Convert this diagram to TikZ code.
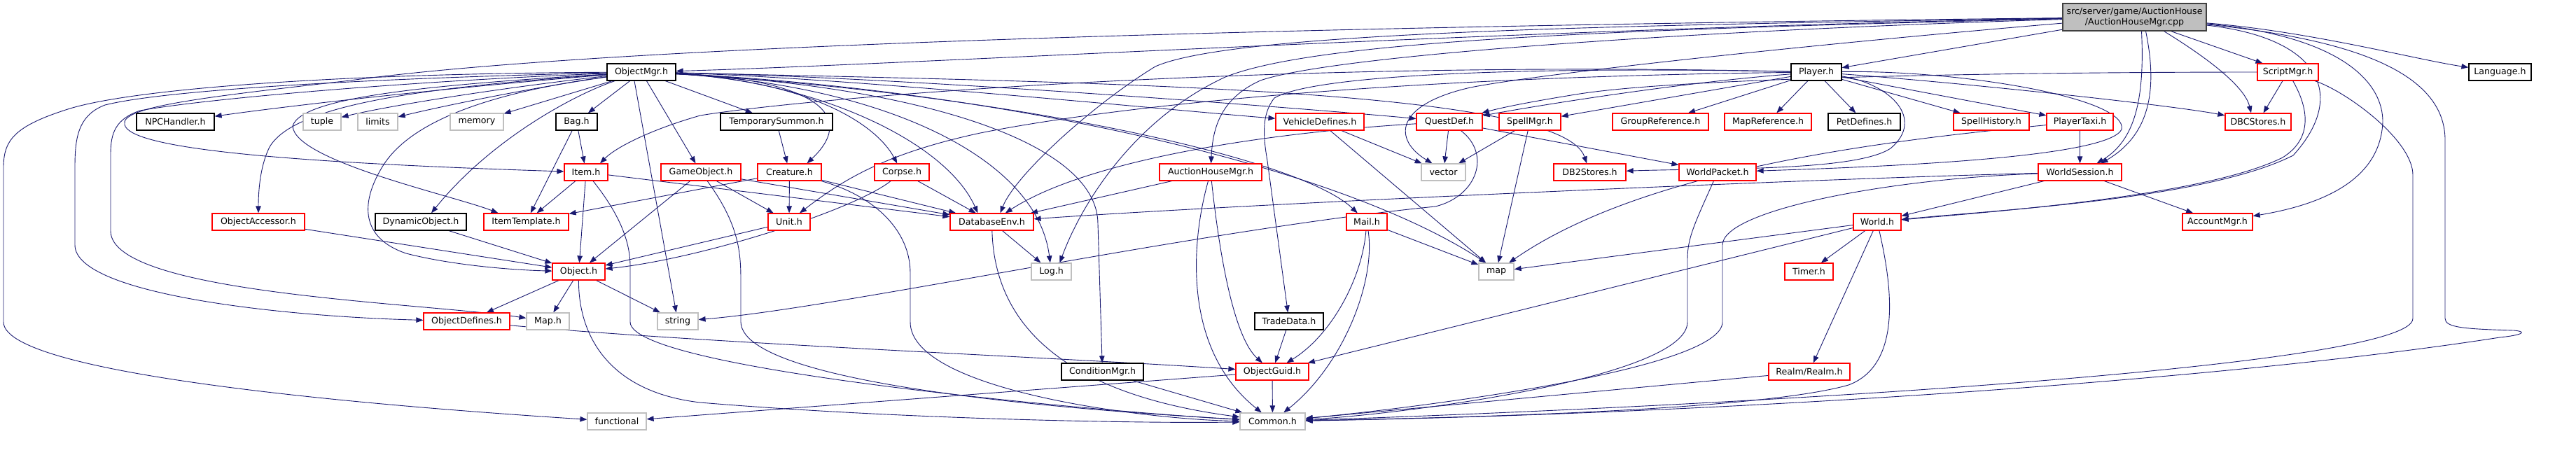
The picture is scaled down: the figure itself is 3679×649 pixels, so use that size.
\documentclass[tikz,border=0pt]{standalone}
\usepackage{fontspec}
\setmainfont{DejaVu Sans}
\usetikzlibrary{arrows.meta}
\definecolor{edgecol}{HTML}{191970}
\definecolor{greyb}{HTML}{BFBFBF}
\definecolor{rootb}{HTML}{404040}
\pgfdeclarelayer{edgelayer}
\pgfsetlayers{edgelayer,main}
\begin{document}
\begin{tikzpicture}[x=1pt,y=-1pt,
  box/.style={draw, line width=1.2pt, minimum height=24pt, inner sep=0pt, fill=white, font=\fontsize{12.6pt}{15pt}\selectfont},
  rb/.style={box, draw=red},
  bb/.style={box, draw=black},
  gb/.style={box, draw=greyb},
  e/.style={draw=edgecol, line width=0.9pt, -{Triangle[length=10pt,width=7.5pt]}}]
\useasboundingbox (0,0) rectangle (3679,649);
% ---------------- nodes ----------------
\node[box, draw=rootb, fill=greyb, minimum width=205pt, minimum height=39pt, align=center] (root) at (3048.5,24.5) {src/server/game/AuctionHouse\\/AuctionHouseMgr.cpp};
% row 1
\node[bb, minimum width=98pt] (om) at (916,103) {ObjectMgr.h};
\node[bb, minimum width=72pt] (player) at (2594,103) {Player.h};
\node[rb, minimum width=87pt] (sm) at (3267.5,103) {ScriptMgr.h};
\node[bb, minimum width=89pt] (lang) at (3570.5,103) {Language.h};
% row 2
\node[bb, minimum width=111pt] (npc) at (250.5,174) {NPCHandler.h};
\node[gb, minimum width=54pt] (tuple) at (460,174) {tuple};
\node[gb, minimum width=57pt] (limits) at (539.5,174) {limits};
\node[gb, minimum width=76pt] (memory) at (681,174) {memory};
\node[bb, minimum width=59pt] (bag) at (823.5,174) {Bag.h};
\node[bb, minimum width=160pt] (tsum) at (1109,174) {TemporarySummon.h};
\node[rb, minimum width=126pt] (vehicle) at (1885,174) {VehicleDefines.h};
\node[rb, minimum width=94pt] (quest) at (2070,174) {QuestDef.h};
\node[rb, minimum width=88pt] (spellmgr) at (2185,174) {SpellMgr.h};
\node[rb, minimum width=137pt] (groupref) at (2371.5,174) {GroupReference.h};
\node[rb, minimum width=124pt] (mapref) at (2525,174) {MapReference.h};
\node[bb, minimum width=103pt] (petdef) at (2662.5,174) {PetDefines.h};
\node[rb, minimum width=108pt] (spellhist) at (2844,174) {SpellHistory.h};
\node[rb, minimum width=95pt] (ptaxi) at (2970.5,174) {PlayerTaxi.h};
\node[rb, minimum width=94pt] (dbc) at (3225,174) {DBCStores.h};
% row 3
\node[rb, minimum width=62pt] (item) at (837,246) {Item.h};
\node[rb, minimum width=114pt] (gobj) at (1001,246) {GameObject.h};
\node[rb, minimum width=91pt] (creature) at (1127.5,246) {Creature.h};
\node[rb, minimum width=78pt] (corpse) at (1288,246) {Corpse.h};
\node[rb, minimum width=146pt] (ahm) at (1729,246) {AuctionHouseMgr.h};
\node[gb, minimum width=63pt] (vector) at (2061.5,246) {vector};
\node[rb, minimum width=103pt] (db2) at (2270.5,246) {DB2Stores.h};
\node[rb, minimum width=110pt] (wpkt) at (2453,246) {WorldPacket.h};
\node[rb, minimum width=119pt] (wsess) at (2970.5,246) {WorldSession.h};
% row 4
\node[rb, minimum width=132pt] (oacc) at (369,317) {ObjectAccessor.h};
\node[bb, minimum width=130pt] (dynobj) at (601,317) {DynamicObject.h};
\node[rb, minimum width=121pt] (itmpl) at (751.5,317) {ItemTemplate.h};
\node[rb, minimum width=60pt] (unit) at (1127,317) {Unit.h};
\node[rb, minimum width=119pt] (dbenv) at (1416.5,317) {DatabaseEnv.h};
\node[rb, minimum width=58pt] (mail) at (1952,317) {Mail.h};
\node[rb, minimum width=68pt] (world) at (2681,317) {World.h};
\node[rb, minimum width=100pt] (acct) at (3167,317) {AccountMgr.h};
% row 5
\node[rb, minimum width=75pt] (object) at (826.5,388) {Object.h};
\node[gb, minimum width=57pt] (logh) at (1501.5,388) {Log.h};
\node[gb, minimum width=50pt] (mapstd) at (2137,388) {map};
\node[rb, minimum width=69pt] (timer) at (2583.5,388) {Timer.h};
% row 6
\node[rb, minimum width=123pt] (objdefs) at (666.5,459) {ObjectDefines.h};
\node[gb, minimum width=61pt] (maph) at (782.5,459) {Map.h};
\node[gb, minimum width=58pt] (stringh) at (968,459) {string};
\node[bb, minimum width=98pt] (trade) at (1841,459) {TradeData.h};
% row 7
\node[bb, minimum width=117pt] (condmgr) at (1574.5,531) {ConditionMgr.h};
\node[rb, minimum width=104pt] (oguid) at (1817,531) {ObjectGuid.h};
\node[rb, minimum width=116pt] (realm) at (2584,531) {Realm/Realm.h};
% row 8
\node[gb, minimum width=84pt] (functional) at (881,602) {functional};
\node[gb, minimum width=93pt] (common) at (1817.5,602) {Common.h};
\begin{pgfonlayer}{edgelayer}
% ---------------- edges: root ----------------
\draw[e] (root) .. controls (2200,40) and (1300,92) .. (om);
\draw[e] (root) -- (player);
\draw[e] ([xshift=52]root.south) -- (sm);
\draw[e] (root) .. controls (3300,45) and (3450,85) .. (lang);
\draw[e] ([xshift=42]root.south) .. controls (3140,75) and (3205,120) .. ([xshift=-10]dbc.north);
\draw[e] ([xshift=10]root.south) .. controls (3063,140) and (3050,200) .. ([xshift=24]wsess.north);
\draw[e] ([xshift=16]root.south) .. controls (3080,120) and (3075,190) .. ([xshift=30]wsess.north);
\draw[e] (root) .. controls (3320,55) and (3350,140) .. (3275,222) .. controls (3150,285) and (2850,300) .. (world);
\draw[e] (root) .. controls (3330,50) and (3403,110) .. (3403,174) .. controls (3400,250) and (3330,290) .. (acct);
\draw[e] (root) .. controls (3350,55) and (3492,100) .. (3492,200) -- (3492,455) .. controls (3492,468) and (3520,470) .. (3590,472) .. controls (3612,474) and (3600,479) .. (3570,482) .. controls (3200,540) and (2500,590) .. (common);
\draw[e] (root) .. controls (2300,42) and (1880,58) .. (1750,110) .. controls (1620,170) and (1545,290) .. ([xshift=12]logh.north);
\draw[e] (root) .. controls (2300,36) and (1760,46) .. (1650,95) .. controls (1560,150) and (1450,250) .. ([xshift=12]dbenv.north);
\draw[e] (root) .. controls (2400,44) and (1900,80) .. (1800,115) .. controls (1745,140) and (1732,180) .. (ahm);
\draw[e] (root) .. controls (2600,62) and (2200,105) .. (2100,125) .. controls (1990,150) and (1990,200) .. ([xshift=-16]vector.north);
\draw[e] (root) .. controls (2000,36) and (900,60) .. (500,115) .. controls (300,138) and (170,152) .. (178,178) .. controls (185,212) and (400,232) .. (item);
% ---------------- edges: ObjectMgr ----------------
\draw[e] (om) .. controls (700,120) and (450,146) .. (npc);
\draw[e] (om) .. controls (720,125) and (560,150) .. (tuple);
\draw[e] (om) .. controls (760,125) and (630,152) .. (limits);
\draw[e] (om) -- (memory);
\draw[e] (om) -- (bag);
\draw[e] (om) -- (tsum);
\draw[e] (om) -- (gobj);
\draw[e] ([xshift=-10]om.south) -- (stringh);
\draw[e] (om) .. controls (600,125) and (420,150) .. (385,210) .. controls (370,240) and (369,280) .. (oacc);
\draw[e] (om) .. controls (820,135) and (700,200) .. ([xshift=15]dynobj.north);
\draw[e] (om) .. controls (600,122) and (430,140) .. (418,180) .. controls (420,230) and (650,280) .. ([xshift=-40]itmpl.north);
\draw[e] (om) .. controls (680,135) and (580,180) .. (545,240) .. controls (515,290) and (515,340) .. (580,362) .. controls (650,380) and (740,386) .. (object);
\draw[e] (om) .. controls (600,115) and (300,140) .. (200,158) .. controls (165,170) and (158,190) .. (158,220) -- (158,330) .. controls (158,420) and (600,432) .. (maph);
\draw[e] (om) .. controls (600,110) and (250,125) .. (150,150) .. controls (110,165) and (107,200) .. (107,240) -- (107,350) .. controls (107,420) and (400,452) .. (objdefs);
\draw[e] (om) .. controls (500,105) and (200,125) .. (100,155) .. controls (20,180) and (5,200) .. (5,240) -- (5,460) .. controls (5,540) and (600,584) .. (functional);
\draw[e] (om) .. controls (1150,112) and (1230,160) .. ([xshift=25]creature.north);
\draw[e] (om) .. controls (1150,115) and (1250,175) .. (corpse);
\draw[e] (om) .. controls (1160,115) and (1350,200) .. ([xshift=-20]dbenv.north);
\draw[e] (om) .. controls (1250,120) and (1480,220) .. (logh);
\draw[e] (om) .. controls (1300,122) and (1568,200) .. (1568,320) -- (condmgr);
\draw[e] (om) .. controls (1400,130) and (1850,220) .. (mail);
\draw[e] (om) .. controls (1400,126) and (1900,230) .. ([xshift=-15]mapstd.north);
\draw[e] (om) .. controls (1200,110) and (1700,160) .. (vehicle);
\draw[e] (om) .. controls (1300,110) and (1900,158) .. (quest);
\draw[e] (om) .. controls (1600,118) and (2230,128) .. (db2);
% ---------------- edges: Player ----------------
\draw[e] (player) .. controls (2400,118) and (2200,150) .. (quest);
\draw[e] (player) -- (spellmgr);
\draw[e] (player) -- (groupref);
\draw[e] (player) -- (mapref);
\draw[e] (player) -- (petdef);
\draw[e] (player) -- (spellhist);
\draw[e] (player) -- (ptaxi);
\draw[e] (player) .. controls (2800,118) and (3100,150) .. (dbc);
\draw[e] (player) .. controls (2700,120) and (2750,170) .. (2700,212) .. controls (2650,245) and (2450,240) .. (db2);
\draw[e] (player) .. controls (2800,100) and (3040,140) .. (3030,185) .. controls (3010,225) and (2700,238) .. (wpkt);
\draw[e] (player) .. controls (1800,85) and (1150,140) .. (1000,165) .. controls (930,185) and (880,210) .. ([xshift=20]item.north);
\draw[e] (player) .. controls (2000,110) and (1600,150) .. (1400,190) .. controls (1260,220) and (1200,260) .. ([xshift=15]unit.north);
\draw[e] (player) .. controls (2200,95) and (1880,105) .. (1820,140) .. controls (1800,165) and (1805,200) .. (1810,230) -- (trade);
% ---------------- edges: ScriptMgr ----------------
\draw[e] (sm) -- (dbc);
\draw[e] (sm) .. controls (2900,103) and (2400,110) .. (2250,135) .. controls (2170,148) and (2140,155) .. (quest);
\draw[e] (sm) .. controls (3300,160) and (3300,200) .. (3260,225) .. controls (3150,280) and (2850,302) .. (world);
\draw[e] (sm) .. controls (3350,130) and (3446,200) .. (3446,250) -- (3446,455) .. controls (3446,520) and (2600,575) .. (common);
% ---------------- edges: right side ----------------
\draw[e] (ptaxi) -- (wsess);
\draw[e] (ptaxi) .. controls (2700,200) and (2350,240) .. (mapstd);
\draw[e] (wsess) -- (world);
\draw[e] (wsess) -- (acct);
\draw[e] (wsess) .. controls (2600,255) and (1800,290) .. (dbenv);
\draw[e] (wsess) .. controls (2700,255) and (2460,300) .. (2460,350) -- (2460,460) .. controls (2460,530) and (2000,585) .. (common);
\draw[e] (wpkt) .. controls (2420,320) and (2410,340) .. (2410,370) -- (2410,460) .. controls (2410,540) and (2000,592) .. (common);
\draw[e] (world) -- (timer);
\draw[e] (world) -- (realm);
\draw[e] (world) .. controls (2700,400) and (2720,520) .. (2640,550) .. controls (2500,590) and (2000,598) .. (common);
\draw[e] (world) -- (oguid);
\draw[e] (world) -- (mapstd);
\draw[e] (realm) -- (common);
% ---------------- edges: middle ----------------
\draw[e] (vehicle) -- (vector);
\draw[e] (vehicle) -- (mapstd);
\draw[e] (quest) -- (vector);
\draw[e] (quest) -- (wpkt);
\draw[e] (quest) .. controls (1800,190) and (1550,230) .. (dbenv);
\draw[e] (quest) .. controls (2130,220) and (2110,280) .. (2050,295) .. controls (1700,330) and (1200,440) .. (stringh);
\draw[e] (spellmgr) -- (vector);
\draw[e] (spellmgr) -- (mapstd);
\draw[e] (mail) -- (mapstd);
\draw[e] (mail) .. controls (1945,400) and (1900,480) .. (oguid);
\draw[e] (mail) .. controls (1965,400) and (1920,520) .. (common);
\draw[e] (trade) -- (oguid);
\draw[e] (oguid) -- (common);
\draw[e] (oguid) -- (functional);
\draw[e] (condmgr) -- (common);
\draw[e] (ahm) -- (dbenv);
\draw[e] (ahm) .. controls (1700,350) and (1690,500) .. (common);
\draw[e] (ahm) .. controls (1740,350) and (1760,480) .. (oguid);
\draw[e] (dbenv) -- (logh);
\draw[e] (dbenv) .. controls (1420,450) and (1500,560) .. (common);
% ---------------- edges: left side ----------------
\draw[e] (corpse) .. controls (1220,300) and (1000,370) .. (object);
\draw[e] (corpse) -- (dbenv);
\draw[e] (creature) -- (itmpl);
\draw[e] (creature) -- (unit);
\draw[e] (creature) -- (dbenv);
\draw[e] (creature) .. controls (1250,280) and (1300,330) .. (1300,390) -- (1300,460) .. controls (1300,560) and (1650,600) .. (common);
\draw[e] (gobj) -- (object);
\draw[e] (gobj) -- (unit);
\draw[e] (gobj) -- (dbenv);
\draw[e] (gobj) .. controls (1055,320) and (1058,360) .. (1058,400) -- (1058,460) .. controls (1060,560) and (1650,592) .. (common);
\draw[e] (item) -- (itmpl);
\draw[e] (item) -- (object);
\draw[e] (item) -- (dbenv);
\draw[e] (item) .. controls (880,300) and (900,340) .. (900,380) -- (900,460) .. controls (900,530) and (1600,590) .. (common);
\draw[e] (bag) -- (item);
\draw[e] (bag) -- (itmpl);
\draw[e] (tsum) -- (creature);
\draw[e] (unit) -- (object);
\draw[e] (dynobj) -- (object);
\draw[e] (oacc) -- (object);
\draw[e] (object) -- (objdefs);
\draw[e] (object) -- (maph);
\draw[e] (object) -- (stringh);
\draw[e] (object) .. controls (826,480) and (870,560) .. (1000,575) .. controls (1300,600) and (1650,605) .. (common);
\draw[e] (objdefs) .. controls (1000,490) and (1500,510) .. (oguid);
\end{pgfonlayer}
\end{tikzpicture}
\end{document}
